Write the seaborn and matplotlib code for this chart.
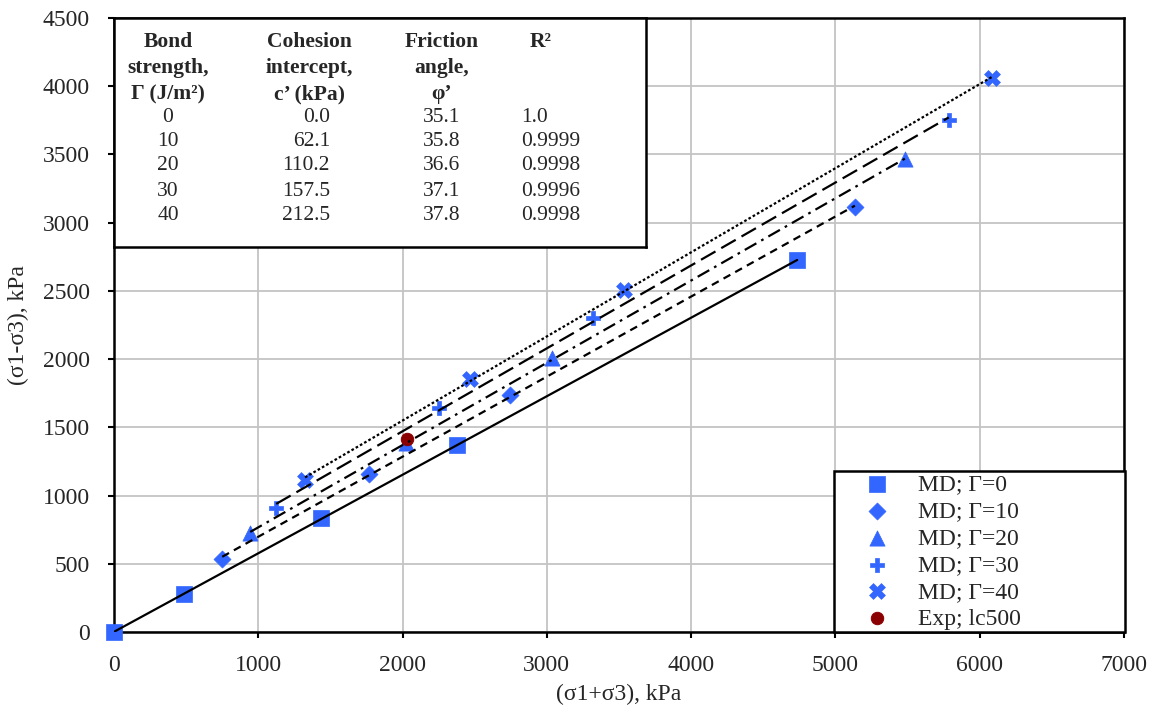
import numpy as np
import pandas as pd
import matplotlib
matplotlib.use("Agg")
import matplotlib.pyplot as plt
import seaborn as sns

# MD results, (sigma1+sigma3) vs (sigma1-sigma3), kPa
g0_x = [0, 485, 1435, 2380, 4735]
g0_y = [0, 278, 832, 1372, 2725]
g10_x = [750, 1770, 2745, 5135]
g10_y = [535, 1160, 1738, 3115]
g20_x = [944, 2022, 3033, 5485]
g20_y = [725, 1385, 2006, 3465]
g30_x = [1124, 2252, 3322, 5785]
g30_y = [912, 1642, 2300, 3755]
g40_x = [1324, 2470, 3532, 6085]
g40_y = [1117, 1853, 2505, 4060]
exp_x = [2030]
exp_y = [1415]

labels = ["MD; Γ=0", "MD; Γ=10", "MD; Γ=20", "MD; Γ=30", "MD; Γ=40"]
markers = ["s", "D", "^", "P", "X"]
msizes = [130, 75, 120, 90, 130]
line_styles = ["-", (0, (3.5, 2.5)), (0, (6, 2.5, 1.2, 2.5)), (0, (7.5, 3)), (0, (1.2, 1.0))]

# fit table
tab_gamma = ["0", "10", "20", "30", "40"]
tab_c = ["0.0", "62.1", "110.2", "157.5", "212.5"]
tab_phi = ["35.1", "35.8", "36.6", "37.1", "37.8"]
tab_r2 = ["1.0", "0.9999", "0.9998", "0.9996", "0.9998"]

sns.set_style("white")
plt.rcParams['font.family'] = ['Liberation Serif', 'DejaVu Serif']

fig = plt.figure(figsize=(11.6, 7.1), dpi=100)
ax = fig.add_axes([114 / 1160, 78 / 710, 1010 / 1160, 614 / 710])

blue = "#3366ff"
series = [(g0_x, g0_y), (g10_x, g10_y), (g20_x, g20_y), (g30_x, g30_y), (g40_x, g40_y)]

for (xs, ys), lab, mk, ms in zip(series, labels, markers, msizes):
    sns.scatterplot(x=xs, y=ys, ax=ax, marker=mk, s=ms, color=blue,
                    edgecolor=blue, linewidth=0.5, label=lab, clip_on=False, zorder=3)
sns.scatterplot(x=exp_x, y=exp_y, ax=ax, marker="o", s=80, color="#8b0000",
                edgecolor="#8b0000", label="Exp; lc500", zorder=3)

# linear trendlines
for (xs, ys), ls in zip(series, line_styles):
    sns.regplot(x=np.array(xs), y=np.array(ys), ax=ax, scatter=False, ci=None, truncate=True,
                color="black", line_kws={"linestyle": ls, "linewidth": 1.6, "zorder": 4})

ax.set_xlim(0, 7000)
ax.set_ylim(0, 4500)
ax.set_xticks(np.arange(0, 7001, 1000))
ax.set_yticks(np.arange(0, 4501, 500))
ax.grid(True, color="#c4c4c4", linewidth=1.3)
ax.set_axisbelow(True)
for s in ax.spines.values():
    s.set_color("black")
    s.set_linewidth(1.8)
ax.tick_params(axis="both", which="major", labelsize=17, length=4.5, width=1.5,
               direction="out", color="black", left=True, bottom=True)
ax.tick_params(axis="x", pad=12)
ax.tick_params(axis="y", pad=13)
ax.set_xlabel("(σ1+σ3), kPa", fontsize=17, labelpad=6)
ax.set_ylabel("(σ1-σ3), kPa", fontsize=17, labelpad=10)

leg = ax.legend(loc="lower left", mode="expand", bbox_to_anchor=(0.713, 0.0, 0.288, 0.1),
                fontsize=17, frameon=True, fancybox=False, borderpad=0.1,
                labelspacing=0.23, handlelength=3.4, handletextpad=0.05, borderaxespad=0.0)
leg.get_frame().set_edgecolor("black")
leg.get_frame().set_linewidth(1.8)
leg.get_frame().set_alpha(1)

# table of fitted parameters
tab = fig.add_axes([114 / 1160, 1 - 247 / 710, (646 - 114) / 1160, (247 - 18) / 710])
tab.set_xticks([])
tab.set_yticks([])
tab.set_xlim(114, 646)
tab.set_ylim(247, 18)
tab.set_facecolor("white")
for s in tab.spines.values():
    s.set_color("black")
    s.set_linewidth(1.8)

hdr = [["Bond", "strength,", "Γ (J/m²)"],
       ["Cohesion", "intercept,", "c’ (kPa)"],
       ["Friction", "angle,", "φ’"],
       ["R²", "", ""]]
hdr_x = [168, 309, 442, 541]
hdr_y = [42, 68, 94]
for hx, lines in zip(hdr_x, hdr):
    for hy, t in zip(hdr_y, lines):
        tab.text(hx, hy, t, ha="center", va="center", fontsize=15.5, fontweight="bold")

row_y = [117, 142, 166, 191, 215]
for i, yy in enumerate(row_y):
    tab.text(168, yy, tab_gamma[i], ha="center", va="center", fontsize=15.5)
    tab.text(330, yy, tab_c[i], ha="right", va="center", fontsize=15.5)
    tab.text(442, yy, tab_phi[i], ha="center", va="center", fontsize=15.5)
    tab.text(521, yy, tab_r2[i], ha="left", va="center", fontsize=15.5)

fig.savefig("out.png", dpi=100)
